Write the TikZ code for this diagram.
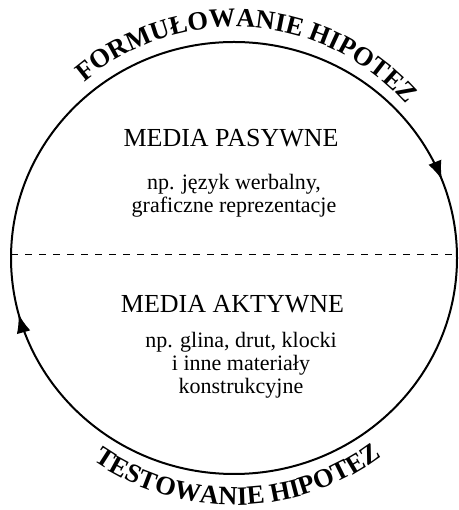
\documentclass[tikz,border=0pt]{standalone}
\usepackage{fontspec}
\setmainfont{Liberation Serif}
\usetikzlibrary{arrows.meta,decorations.markings,decorations.text}

\newcommand\arctext{\fontsize{26.5}{26.5}\selectfont\bfseries}

\begin{document}
\begin{tikzpicture}[x=1pt, y=1pt,
	cycletip/.tip = {Latex[length=19pt, width=14pt]},
	heading/.style = {font=\fontsize{26}{28}\selectfont, inner sep=0pt},
	detail/.style = {font=\fontsize{22}{23}\selectfont, align=center, inner sep=0pt}]

	\useasboundingbox (0,0) rectangle (458,510);

	\coordinate (O) at (234,252);
	\coordinate (L) at (11,256);
	\coordinate (R) at (458,256);

	\draw[line width=2pt,
		  postaction={decorate},
		  decoration={markings,
					  mark=at position 0.058 with {\arrowreversed{cycletip}},
					  mark=at position 0.541 with {\arrowreversed{cycletip}}}]
		(O) ellipse [x radius=223, y radius=216];

	\draw[line width=0.9pt, dash pattern=on 7pt off 7pt] (L) -- (R);

	\path[shift={(O)}, decorate,
		  decoration={text along path, text align=center,
					  text={|\arctext|FORMUŁOWANIE HIPOTEZ}}]
		(176:231) arc[start angle=176, end angle=-4, radius=231];

	\path[shift={(O)}, decorate,
		  decoration={text along path, text align=center,
					  text={|\arctext|TESTOWANIE HIPOTEZ}}]
		(216:247) arc[start angle=216, end angle=326, radius=247];

	\node[heading, anchor=base] (P) at (231,363) {MEDIA PASYWNE};
	\node[detail, anchor=north] (Pd) at (234,336)
		{np. język werbalny,\\graficzne reprezentacje};

	\node[heading, anchor=base] (A) at (232.5,197) {MEDIA AKTYWNE};
	\node[detail, anchor=north] (Ad) at (241,178)
		{np. glina, drut, klocki\\i inne materiały\\konstrukcyjne};
\end{tikzpicture}
\end{document}
